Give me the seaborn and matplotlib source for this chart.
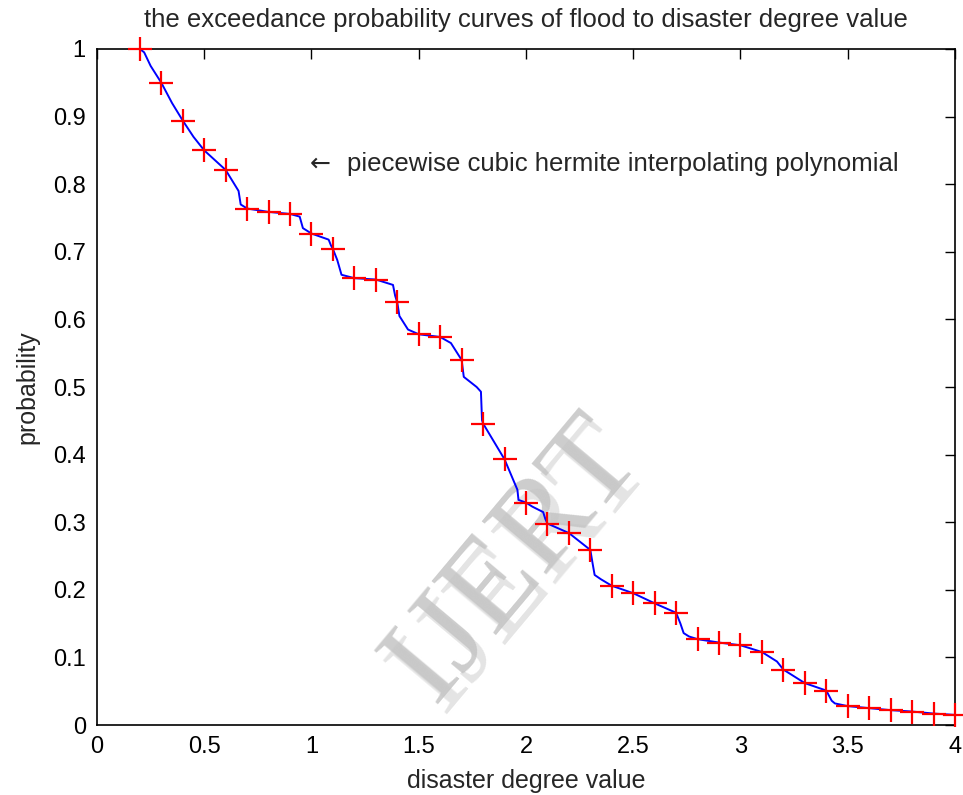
import numpy as np
import pandas as pd
import matplotlib
matplotlib.use("Agg")
import matplotlib.pyplot as plt
import seaborn as sns

# marker points (disaster degree value vs exceedance probability)
degree = [0.2, 0.3, 0.4, 0.5, 0.6, 0.7, 0.8, 0.9, 1.0, 1.1, 1.2, 1.3, 1.4,
          1.5, 1.6, 1.7, 1.8, 1.9, 2.0, 2.1, 2.2, 2.3, 2.4, 2.5, 2.6, 2.7,
          2.8, 2.9, 3.0, 3.1, 3.2, 3.3, 3.4, 3.5, 3.6, 3.7, 3.8, 3.9, 4.0]
prob = [1.0, 0.950, 0.894, 0.850, 0.821, 0.764, 0.759, 0.756, 0.727, 0.704,
        0.661, 0.659, 0.625, 0.578, 0.574, 0.540, 0.446, 0.393, 0.329, 0.298,
        0.284, 0.259, 0.206, 0.195, 0.180, 0.166, 0.127, 0.122, 0.118, 0.108,
        0.082, 0.062, 0.051, 0.028, 0.025, 0.022, 0.020, 0.017, 0.015]

# blue curve, vertices
curve_x = [0.2, 0.22, 0.25, 0.3, 0.35, 0.4, 0.45, 0.5, 0.6, 0.66, 0.67, 0.7,
           0.8, 0.9, 0.945, 0.96, 1.0, 1.08, 1.09, 1.1, 1.12, 1.14, 1.2, 1.3,
           1.38, 1.39, 1.4, 1.41, 1.45, 1.5, 1.6, 1.65, 1.67, 1.7, 1.71, 1.77,
           1.79, 1.795, 1.8, 1.9, 1.92, 1.96, 1.965, 2.0, 2.03, 2.08, 2.09,
           2.1, 2.2, 2.3, 2.31, 2.32, 2.35, 2.4, 2.5, 2.6, 2.7, 2.72, 2.735,
           2.76, 2.8, 2.9, 3.0, 3.1, 3.17, 3.2, 3.3, 3.4, 3.425, 3.44, 3.5,
           3.6, 3.7, 3.8, 3.9, 4.0]
curve_y = [1.0, 0.995, 0.975, 0.950, 0.92, 0.894, 0.87, 0.850, 0.821, 0.790,
           0.770, 0.764, 0.759, 0.756, 0.752, 0.735, 0.727, 0.718, 0.710,
           0.704, 0.688, 0.666, 0.661, 0.659, 0.651, 0.635, 0.625, 0.605,
           0.585, 0.578, 0.574, 0.565, 0.555, 0.540, 0.515, 0.500, 0.493,
           0.451, 0.446, 0.393, 0.378, 0.348, 0.333, 0.329, 0.323, 0.315,
           0.305, 0.298, 0.284, 0.259, 0.240, 0.222, 0.2155, 0.206, 0.195,
           0.180, 0.166, 0.150, 0.136, 0.131, 0.127, 0.122, 0.118, 0.108,
           0.094, 0.082, 0.062, 0.051, 0.036, 0.032, 0.028, 0.025, 0.022,
           0.020, 0.017, 0.015]

x_ticks = [0, 0.5, 1, 1.5, 2, 2.5, 3, 3.5, 4]
x_tick_labels = ["0", "0.5", "1", "1.5", "2", "2.5", "3", "3.5", "4"]
y_ticks = [0, 0.1, 0.2, 0.3, 0.4, 0.5, 0.6, 0.7, 0.8, 0.9, 1]
y_tick_labels = ["0", "0.1", "0.2", "0.3", "0.4", "0.5", "0.6", "0.7", "0.8", "0.9", "1"]

sns.set_style("white")
plt.rcParams["font.family"] = ["Liberation Sans", "DejaVu Sans"]

fig = plt.figure(figsize=(9.63, 7.95), dpi=100)
ax = fig.add_axes([0.1007, 0.088, 0.891, 0.8504])

curve = pd.DataFrame({"x": curve_x, "y": curve_y})
points = pd.DataFrame({"x": degree, "y": prob})

sns.lineplot(data=curve, x="x", y="y", ax=ax, color="blue", linewidth=1.4,
             sort=False, zorder=2)
sns.scatterplot(data=points, x="x", y="y", ax=ax, marker="+", color="red",
                s=280, linewidth=1.6, zorder=3, clip_on=False)

ax.set_xlim(0, 4)
ax.set_ylim(0, 1)
ax.set_xticks(x_ticks)
ax.set_xticklabels(x_tick_labels)
ax.set_yticks(y_ticks)
ax.set_yticklabels(y_tick_labels)
ax.tick_params(direction="in", length=7, width=1, top=True, right=True,
               labelsize=17, pad=8, colors="black")
for sp in ax.spines.values():
    sp.set_visible(True)
    sp.set_color("black")
    sp.set_linewidth(1.2)

ax.set_title("the exceedance probability curves of flood to disaster degree value",
             fontsize=18.5, pad=16)
ax.set_xlabel("disaster degree value", fontsize=18, labelpad=8)
ax.set_ylabel("probability", fontsize=18, labelpad=10)

# annotation: arrow glyph from DejaVu (longer), text in Liberation Sans
ax.text(0.99, 0.83, "\u2190", fontsize=18, ha="left", va="center",
        family="DejaVu Sans")
ax.text(1.165, 0.83, "piecewise cubic hermite interpolating polynomial",
        fontsize=18.5, ha="left", va="center")

# watermark (shadow copy plus main copy)
ax.text(1.99, 0.23, "IJERT", fontsize=92, rotation=50, color="#e4e4e4",
        family="Liberation Serif", ha="center", va="center", zorder=1)
ax.text(1.95, 0.245, "IJERT", fontsize=92, rotation=50, color="#c4c4c4",
        alpha=0.85, family="Liberation Serif", ha="center", va="center",
        zorder=1)

fig.savefig("out.png", dpi=100)
